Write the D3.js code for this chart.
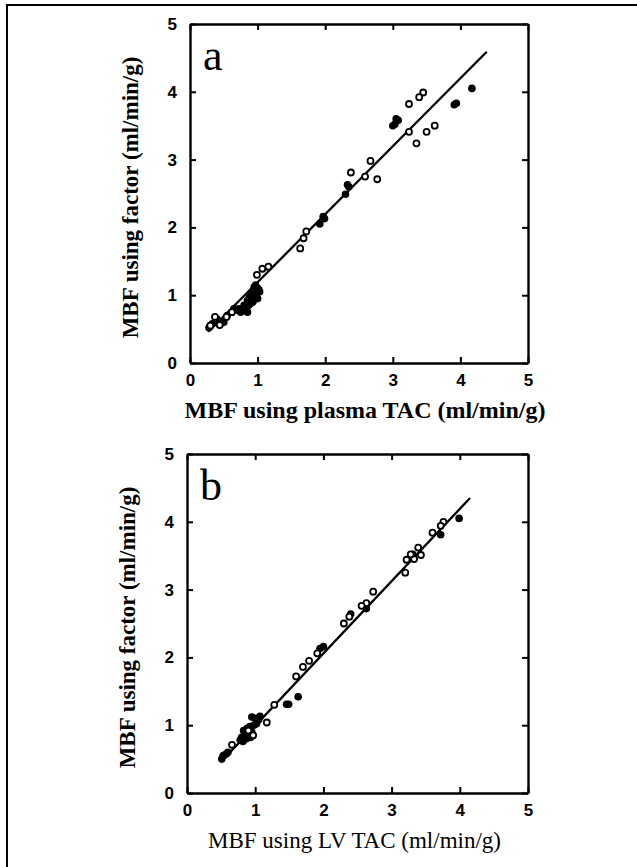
<!DOCTYPE html>
<html><head><meta charset="utf-8">
<script src="https://cdn.jsdelivr.net/npm/d3@7"></script>
<style>body{margin:0;background:#fff}svg{display:block}</style>
</head><body>
<script>
// ---- data ----
const ticks = [0,1,2,3,4,5];
const tickLabels = ["0","1","2","3","4","5"];
const yTitle = "MBF using factor (ml/min/g)";
const xTitleA = "MBF using plasma TAC (ml/min/g)";
const xTitleB = "MBF using LV TAC (ml/min/g)";

// Panel a
const aOpenX = [3.45,3.39,3.24,3.24,3.62,3.50,3.35,2.67,2.77,2.59,2.38,1.72,1.68,1.63,1.16,1.07,0.99,0.37,0.54,0.44,0.30,0.62];
const aOpenY = [3.99,3.92,3.82,3.41,3.50,3.41,3.24,2.98,2.71,2.75,2.81,1.94,1.84,1.69,1.42,1.39,1.30,0.68,0.68,0.56,0.55,0.75];
const aFillX = [4.17,3.91,3.94,3.05,3.08,3.00,3.03,2.33,2.35,2.30,1.97,1.99,1.92,
  0.95,1.00,1.03,0.98,0.92,0.88,0.95,0.85,0.90,0.80,0.78,0.82,0.75,0.72,0.87,0.93,1.00,0.85,0.70,1.02,0.97,
  0.30,0.33,0.28,0.40,0.45,0.55,0.50,0.65];
const aFillY = [4.05,3.81,3.83,3.60,3.58,3.50,3.52,2.63,2.60,2.49,2.16,2.13,2.05,
  1.12,1.10,1.05,1.00,1.02,0.98,0.95,0.92,0.88,0.85,0.80,0.78,0.75,0.80,0.85,0.90,0.95,0.75,0.78,1.08,1.15,
  0.55,0.58,0.52,0.65,0.58,0.70,0.60,0.80];
const aLineX = [0.27,4.39];
const aLineY = [0.46,4.59];

// Panel b
const bOpenX = [3.76,3.72,3.60,3.39,3.43,3.33,3.28,3.22,3.20,2.73,2.63,2.56,2.38,2.30,1.91,1.79,1.70,1.60,1.28,1.17,0.66,0.90,0.97];
const bOpenY = [4.00,3.94,3.84,3.62,3.51,3.45,3.52,3.44,3.25,2.97,2.80,2.76,2.60,2.50,2.06,1.95,1.86,1.72,1.30,1.04,0.71,0.92,0.85];
const bFillX = [3.99,3.72,3.31,2.63,2.40,2.00,1.95,1.63,1.49,1.46,1.07,
  0.95,1.00,1.05,0.98,0.92,0.88,0.95,0.85,0.90,0.80,0.78,0.82,0.87,0.93,0.83,1.02,
  0.51,0.55,0.60,0.53,0.58];
const bFillY = [4.05,3.81,3.52,2.72,2.64,2.16,2.13,1.42,1.31,1.31,1.13,
  1.12,1.10,1.08,1.00,0.98,0.95,0.90,0.88,0.85,0.82,0.78,0.76,0.80,0.82,0.92,1.02,
  0.50,0.56,0.60,0.55,0.58];
const bLineX = [0.50,4.15];
const bLineY = [0.46,4.35];

// ---- drawing ----
const W = 637, H = 867;
const svg = d3.select("body").append("svg").attr("width", W).attr("height", H);
svg.append("rect").attr("x",7).attr("y",5).attr("width",W+10).attr("height",H+10)
  .attr("fill","none").attr("stroke","#000").attr("stroke-width",2);

const serif = "'Liberation Serif','Times New Roman',serif";
const tickFont = "'Liberation Sans Narrow','Liberation Sans','DejaVu Sans Condensed',sans-serif";

function panel(cfg){
  const x = d3.scaleLinear().domain([0,5]).range([cfg.left, cfg.right]);
  const y = d3.scaleLinear().domain([0,5]).range([cfg.bottom, cfg.top]);
  const g = svg.append("g");
  const tl = 6;
  const ax = [
    {a: d3.axisBottom(x).tickSizeInner(-tl), t:`translate(0,${cfg.bottom})`, lab:true, pad:11},
    {a: d3.axisTop(x).tickSizeInner(-tl), t:`translate(0,${cfg.top})`, lab:false, pad:0},
    {a: d3.axisLeft(y).tickSizeInner(-tl), t:`translate(${cfg.left},0)`, lab:true, pad:13},
    {a: d3.axisRight(y).tickSizeInner(-tl), t:`translate(${cfg.right},0)`, lab:false, pad:0}
  ];
  ax.forEach(o=>{
    const gg = g.append("g").attr("transform", o.t)
      .call(o.a.tickValues(ticks).tickSizeOuter(0).tickPadding(o.pad)
        .tickFormat((d,i)=> o.lab ? tickLabels[i] : ""));
    gg.select(".domain").attr("stroke-width",2.4);
    gg.selectAll(".tick line").attr("stroke-width",2);
    gg.selectAll("text").attr("font-family",tickFont).attr("font-weight","bold")
      .attr("font-size",17).attr("fill","#000");
  });
  g.append("line")
    .attr("x1", x(cfg.lx[0])).attr("y1", y(cfg.ly[0]))
    .attr("x2", x(cfg.lx[1])).attr("y2", y(cfg.ly[1]))
    .attr("stroke","#000").attr("stroke-width",2.3);
  g.selectAll(".f").data(cfg.fx.map((v,i)=>[v,cfg.fy[i]])).enter().append("circle")
    .attr("cx",d=>x(d[0])).attr("cy",d=>y(d[1])).attr("r",3.8).attr("fill","#000");
  g.selectAll(".o").data(cfg.ox.map((v,i)=>[v,cfg.oy[i]])).enter().append("circle")
    .attr("cx",d=>x(d[0])).attr("cy",d=>y(d[1])).attr("r",3.0)
    .attr("fill","#fff").attr("stroke","#000").attr("stroke-width",1.8);
  g.append("text").attr("x", cfg.left+13).attr("y", cfg.top+46).text(cfg.letter)
    .attr("font-family",serif).attr("font-size",44).attr("fill","#000");
  g.append("text").attr("x",(cfg.left+cfg.right)/2 + cfg.xOff).attr("y", cfg.bottom+55)
    .attr("text-anchor","middle").text(cfg.xTitle)
    .attr("font-family",serif).attr("font-weight",cfg.xBold?"bold":"normal").attr("font-size",cfg.xSize);
  g.append("text").attr("transform",`translate(${cfg.left-52},${(cfg.top+cfg.bottom)/2+4}) rotate(-90)`)
    .attr("text-anchor","middle").text(yTitle)
    .attr("font-family",serif).attr("font-weight","bold").attr("font-size",23);
}

panel({left:190,right:528,top:24,bottom:363,lx:aLineX,ly:aLineY,
  ox:aOpenX,oy:aOpenY,fx:aFillX,fy:aFillY,letter:"a",xTitle:xTitleA,xBold:true,xSize:24,xOff:6});
panel({left:187,right:528,top:454,bottom:793,lx:bLineX,ly:bLineY,
  ox:bOpenX,oy:bOpenY,fx:bFillX,fy:bFillY,letter:"b",xTitle:xTitleB,xBold:false,xSize:23,xOff:-3});
</script>
</body></html>
